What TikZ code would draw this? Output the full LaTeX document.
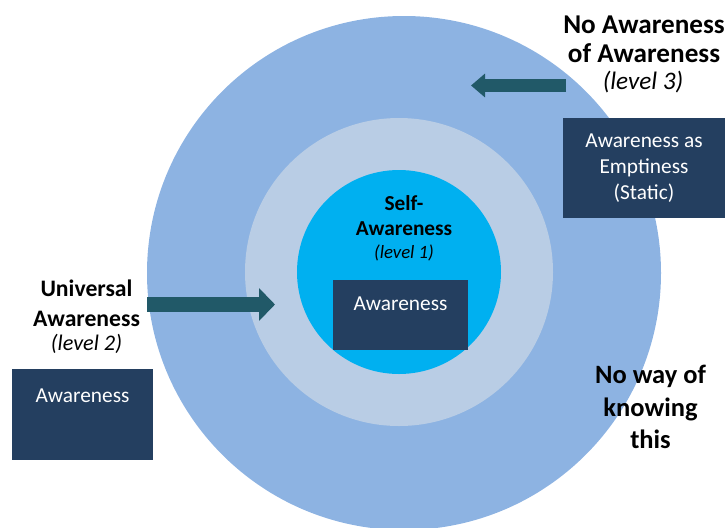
\documentclass[tikz,border=0pt]{standalone}
\usepackage{fontspec}
\setmainfont{Carlito}
\usetikzlibrary{arrows.meta}
\definecolor{outerblue}{HTML}{8DB3E2}
\definecolor{ringblue}{HTML}{B9CDE5}
\definecolor{selfcyan}{HTML}{00B0F0}
\definecolor{boxnavy}{HTML}{243F60}
\definecolor{arrowteal}{HTML}{215968}

\begin{document}
\begin{tikzpicture}[
    x=0.03cm, y=-0.03cm,
    every node/.style={align=center, inner sep=0pt},
    heading/.style args={#1/#2}{font=\fontsize{#1}{#2}\selectfont\bfseries},
    level/.style={font=\fontsize{#1}{#1}\selectfont\itshape},
    box/.style={fill=boxnavy, text=white, font=\fontsize{18.2}{22.2}\selectfont},
    fat arrow/.style={draw=arrowteal, line width=#1}
]
\useasboundingbox (0,0) rectangle (725,527);

\fill[outerblue] (404,273) circle (257);
\fill[ringblue] (399,272) circle (154);
\fill[selfcyan] (399,272) circle (102);

\coordinate (univtail) at (147,304.5);
\coordinate (univtip) at (275,304.5);
\coordinate (emptytail) at (566,85.5);
\coordinate (emptytip) at (471,85.5);
\draw[fat arrow=0.45cm, -{Triangle[length=0.48cm, width=0.96cm]}] (univtail) -- (univtip);
\draw[fat arrow=0.39cm, -{Triangle[length=0.42cm, width=0.69cm]}] (emptytail) -- (emptytip);

\node[box, minimum width=4.05cm, minimum height=2.1cm, text depth=0.69cm] (selfbox) at (400.5,315) {Awareness};
\node[box, minimum width=4.23cm, minimum height=2.73cm, text depth=1.14cm] (univbox) at (82.5,414.5) {Awareness};
\node[box, minimum width=4.86cm, minimum height=3cm] (emptybox) at (644,168) {Awareness as\\Emptiness\\(Static)};

\node[heading=18.2/21.3] (self) at (404,215.5) {Self-\\Awareness};
\node[level=16, anchor=base] (selflevel) at (404,258) {(level 1)};
\node[heading=20.2/25.6] (univ) at (86.5,303) {Universal\\Awareness};
\node[level=19, anchor=base] (univlevel) at (86.5,350) {(level 2)};
\node[heading=23.2/24.8] (empty) at (644,39.5) {No Awareness\\of Awareness};
\node[level=21.5, anchor=base] (emptylevel) at (643,89) {(level 3)};
\node[heading=22.6/27.8] (unknown) at (650.5,407) {No way of\\knowing\\this};
\end{tikzpicture}
\end{document}
